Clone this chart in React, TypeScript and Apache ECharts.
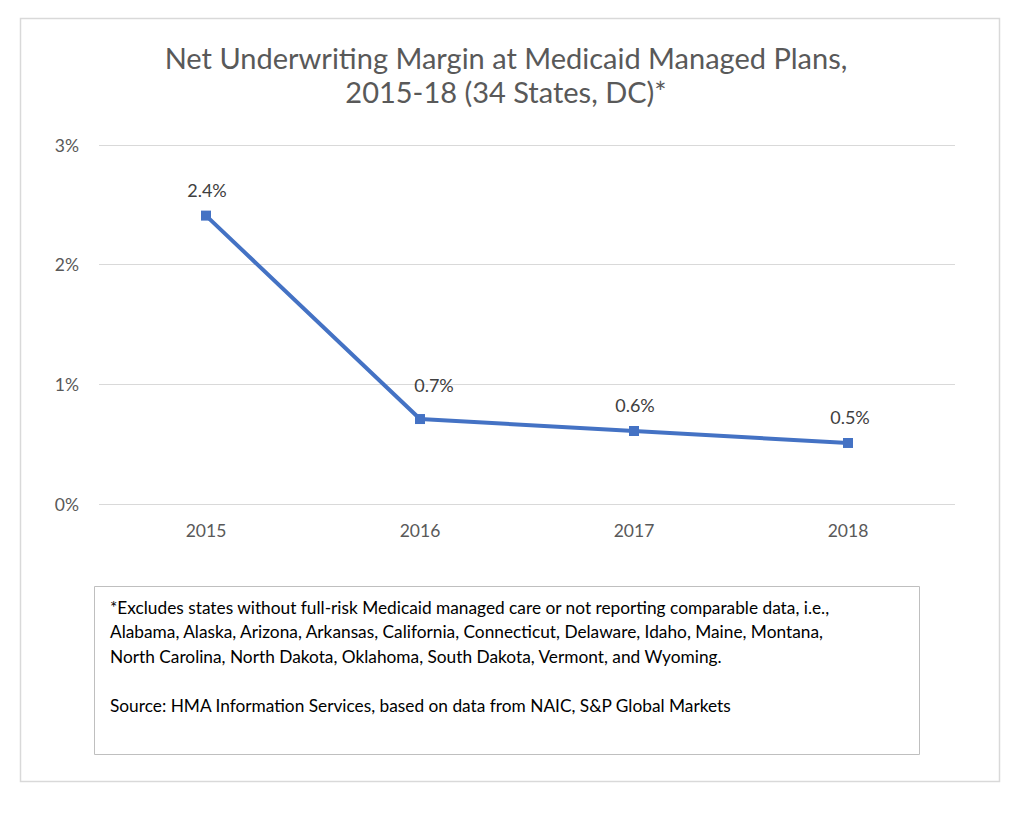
import React, { useEffect, useRef } from "react";
import * as echarts from "echarts";

const years = ["2015", "2016", "2017", "2018"];
const margins = [2.41, 0.71, 0.61, 0.51];
const marginLabels = ["2.4%", "0.7%", "0.6%", "0.5%"];
const yTicks = [0, 1, 2, 3];
const titleText = "Net Underwriting Margin at Medicaid Managed Plans,\n2015-18 (34 States, DC)*";
const noteLines = [
  "*Excludes states without full-risk Medicaid managed care or not reporting comparable data, i.e.,",
  "Alabama, Alaska, Arizona, Arkansas, California, Connecticut, Delaware, Idaho, Maine, Montana,",
  "North Carolina, North Dakota, Oklahoma, South Dakota, Vermont, and Wyoming.",
  "",
  "Source: HMA Information Services, based on data from NAIC, S&P Global Markets",
];

const FONT = "Lato, 'Open Sans', sans-serif";
const labelOffsets: [number, number][] = [[1, 0], [14, -8], [1, 0], [2, 0]];

export default function App() {
  const ref = useRef<HTMLDivElement>(null);
  useEffect(() => {
    if (!ref.current) return;
    const chart = echarts.init(ref.current, undefined, { renderer: "svg" });
    chart.setOption({
      animation: false,
      backgroundColor: "#ffffff",
      title: {
        text: titleText,
        left: 501,
        top: 35,
        textAlign: "center",
        textStyle: {
          fontFamily: FONT,
          fontSize: 29,
          fontWeight: "normal",
          color: "#595959",
          lineHeight: 34,
        },
      },
      grid: { left: 99, right: 69, top: 145, height: 359 },
      xAxis: {
        type: "category",
        data: years,
        boundaryGap: true,
        axisLine: { show: false },
        axisTick: { show: false },
        axisLabel: { color: "#595959", fontSize: 17.5, fontFamily: FONT, margin: 17 },
      },
      yAxis: {
        type: "value",
        min: yTicks[0],
        max: yTicks[yTicks.length - 1],
        interval: 1,
        axisLine: { show: false },
        axisTick: { show: false },
        axisLabel: {
          color: "#595959",
          fontSize: 17.5,
          fontFamily: FONT,
          margin: 20,
          formatter: (v: number) => v + "%",
        },
        splitLine: { lineStyle: { color: "#d9d9d9", width: 1 } },
      },
      series: [
        {
          type: "line",
          data: margins.map((v, i) => ({
            value: v,
            label: { offset: labelOffsets[i] },
          })),
          symbol: "rect",
          symbolSize: 10,
          lineStyle: { color: "#4472C4", width: 4 },
          itemStyle: { color: "#4472C4" },
          label: {
            show: true,
            position: "top",
            distance: 12,
            color: "#404040",
            fontSize: 18,
            fontFamily: FONT,
            formatter: (p: any) => marginLabels[p.dataIndex],
          },
        },
      ],
      graphic: [
        {
          type: "rect",
          shape: { x: 20.5, y: 18.5, width: 979, height: 763 },
          style: { fill: "none", stroke: "#d9d9d9", lineWidth: 1.5 },
          silent: true,
        },
        {
          type: "rect",
          shape: { x: 94.5, y: 586.5, width: 825, height: 168 },
          style: { fill: "none", stroke: "#bfbfbf", lineWidth: 1 },
          silent: true,
        },
        {
          type: "text",
          x: 110,
          y: 595,
          style: {
            text: noteLines.join("\n"),
            fontFamily: FONT,
            fontSize: 17.3,
            lineHeight: 24.5,
            fill: "#000000",
          },
          silent: true,
        },
      ],
    });
    return () => chart.dispose();
  }, []);
  return (
    <div
      ref={ref}
      style={{ position: "fixed", left: 0, top: 0, width: 1024, height: 829, background: "#fff" }}
    />
  );
}
